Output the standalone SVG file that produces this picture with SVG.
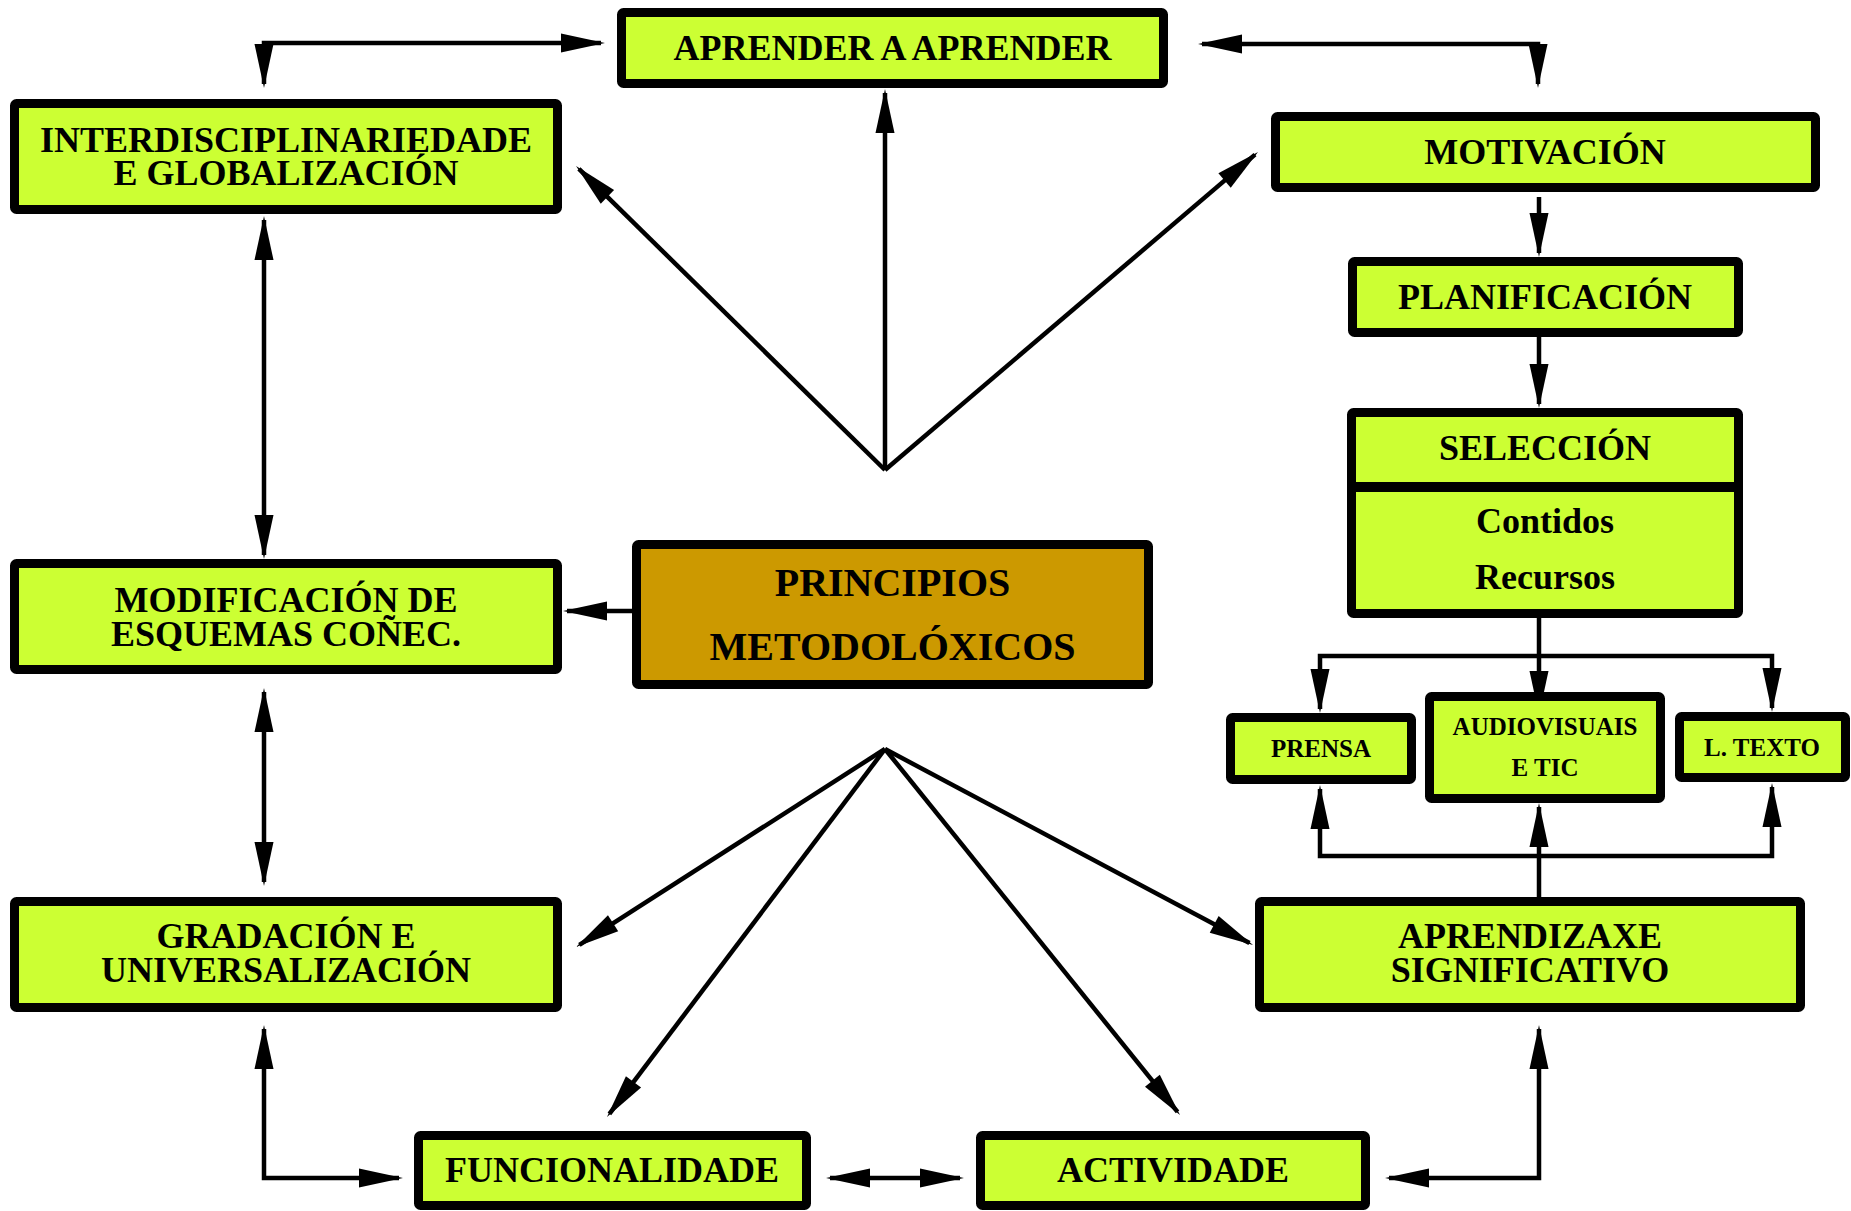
<svg xmlns="http://www.w3.org/2000/svg" width="1851" height="1211" viewBox="0 0 1851 1211">
<style>
.box{fill:#CCFF33;stroke:#000;stroke-width:9}
.main{fill:#CC9900;stroke:#000;stroke-width:9}
.t{font-family:"Liberation Serif","Times New Roman",serif;font-weight:bold;font-size:36px;text-anchor:middle;fill:#000}
.tb{font-size:40px}
.ts{font-size:25px}
.c{fill:none;stroke:#000;stroke-width:4.5}
.c path,.c line{marker-end:url(#ah)}
</style>
<defs>
<marker id="ah" markerUnits="userSpaceOnUse" markerWidth="46" markerHeight="20" viewBox="0 0 46 20" refX="42" refY="10" orient="auto-start-reverse">
<path d="M2,0.5 L46,10 L2,19.5 Z" fill="#000" stroke="none"/>
</marker>
</defs>
<rect width="1851" height="1211" fill="#fff"/>
<g id="connectors" class="c">
<line x1="885" y1="470" x2="885" y2="93"/>
<line x1="885" y1="470" x2="578.9" y2="168.8"/>
<line x1="885" y1="470" x2="1255" y2="154.6"/>
<line x1="885" y1="749" x2="579.4" y2="944.8"/>
<line x1="885" y1="749" x2="609.4" y2="1113.8"/>
<line x1="885" y1="749" x2="1177.5" y2="1111.9"/>
<line x1="885" y1="749" x2="1249.5" y2="943.1"/>
<path d="M264,84 V43 H601" marker-start="url(#ah)"/>
<path d="M1202,44 H1538 V84" marker-start="url(#ah)"/>
<path d="M264,220 V555" marker-start="url(#ah)"/>
<path d="M264,692 V882" marker-start="url(#ah)"/>
<path d="M264,1029 V1178 H399" marker-start="url(#ah)"/>
<path d="M830,1178 H960" marker-start="url(#ah)"/>
<path d="M1539,1029 V1178 H1389" marker-start="url(#ah)"/>
<path d="M632,611 H567"/>
<path d="M1539,197 V253"/>
<path d="M1539,337 V404"/>
<path d="M1539,618 V711"/>
<path d="M1320,709 V656 H1772 V708" marker-start="url(#ah)"/>
<path d="M1539,897 V807"/>
<path d="M1320,789 V856 H1772 V787" marker-start="url(#ah)"/>
</g>
<g id="aprender">
<rect class="box" x="621.5" y="12.5" width="542" height="71" rx="2"/>
<text class="t" x="892.5" y="60">APRENDER A APRENDER</text>
</g>
<g id="interdisciplinariedade">
<rect class="box" x="14.5" y="103.5" width="543" height="106" rx="2"/>
<text class="t" x="286" y="152">INTERDISCIPLINARIEDADE</text>
<text class="t" x="286" y="185">E GLOBALIZACIÓN</text>
</g>
<g id="motivacion">
<rect class="box" x="1275.5" y="116.5" width="540" height="71" rx="2"/>
<text class="t" x="1545" y="164">MOTIVACIÓN</text>
</g>
<g id="planificacion">
<rect class="box" x="1352.5" y="261.5" width="386" height="71" rx="2"/>
<text class="t" x="1545" y="309">PLANIFICACIÓN</text>
</g>
<g id="seleccion">
<rect class="box" x="1351.5" y="412.5" width="387" height="201" rx="2"/>
<line x1="1347" y1="487" x2="1743" y2="487" stroke="#000" stroke-width="10"/>
<text class="t" x="1545" y="460">SELECCIÓN</text>
<text class="t" x="1545" y="533">Contidos</text>
<text class="t" x="1545" y="589">Recursos</text>
</g>
<g id="modificacion">
<rect class="box" x="14.5" y="563.5" width="543" height="106" rx="2"/>
<text class="t" x="286" y="612">MODIFICACIÓN DE</text>
<text class="t" x="286" y="646">ESQUEMAS COÑEC.</text>
</g>
<g id="principios">
<rect class="main" x="636.5" y="544.5" width="512" height="140" rx="2"/>
<text class="t tb" x="892.5" y="596">PRINCIPIOS</text>
<text class="t tb" x="892.5" y="660">METODOLÓXICOS</text>
</g>
<g id="prensa">
<rect class="box" x="1230.5" y="717.5" width="181" height="62" rx="2"/>
<text class="t ts" x="1321" y="757">PRENSA</text>
</g>
<g id="audiovisuais">
<rect class="box" x="1429.5" y="696.5" width="231" height="102" rx="2"/>
<text class="t ts" x="1545" y="735">AUDIOVISUAIS</text>
<text class="t ts" x="1545" y="776">E TIC</text>
</g>
<g id="ltexto">
<rect class="box" x="1679.5" y="716.5" width="166" height="61" rx="2"/>
<text class="t ts" x="1762" y="756">L. TEXTO</text>
</g>
<g id="gradacion">
<rect class="box" x="14.5" y="901.5" width="543" height="106" rx="2"/>
<text class="t" x="286" y="948">GRADACIÓN E</text>
<text class="t" x="286" y="982">UNIVERSALIZACIÓN</text>
</g>
<g id="aprendizaxe">
<rect class="box" x="1259.5" y="901.5" width="541" height="106" rx="2"/>
<text class="t" x="1530" y="948">APRENDIZAXE</text>
<text class="t" x="1530" y="982">SIGNIFICATIVO</text>
</g>
<g id="funcionalidade">
<rect class="box" x="418.5" y="1135.5" width="388" height="70" rx="2"/>
<text class="t" x="612" y="1182">FUNCIONALIDADE</text>
</g>
<g id="actividade">
<rect class="box" x="980.5" y="1135.5" width="385" height="70" rx="2"/>
<text class="t" x="1173" y="1182">ACTIVIDADE</text>
</g>
</svg>
